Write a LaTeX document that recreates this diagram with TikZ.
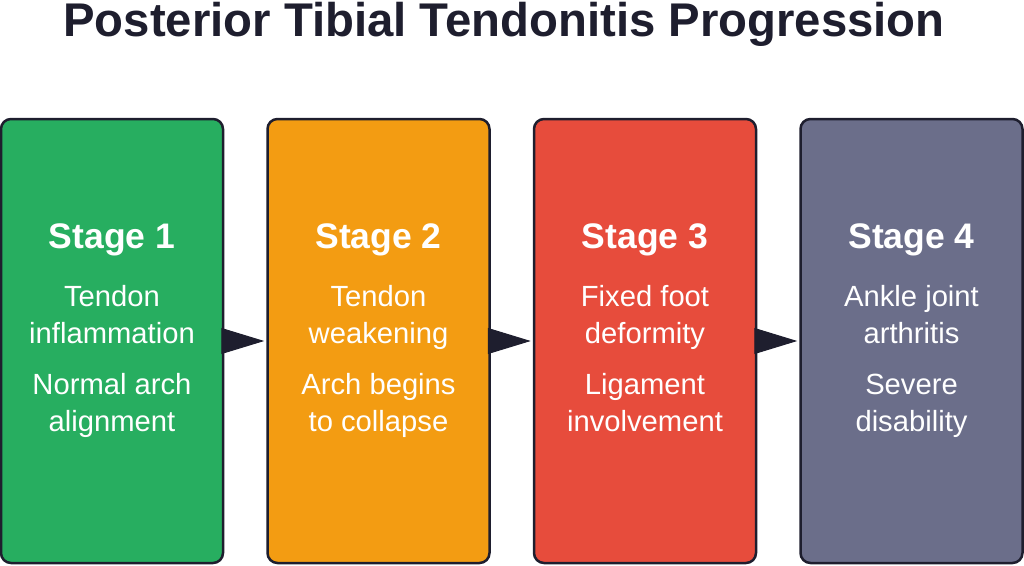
\documentclass[tikz,border=0pt]{standalone}
\usepackage{fontspec}
\setmainfont{Liberation Sans}
\usepackage{xcolor}
\usepackage{tikz}
\usetikzlibrary{positioning, arrows.meta}

\definecolor{ink}{HTML}{1E1E2E}
\definecolor{stagegreen}{HTML}{27AE60}
\definecolor{stageorange}{HTML}{F39C12}
\definecolor{stagered}{HTML}{E74C3C}
\definecolor{stagegrey}{HTML}{6B6E8A}

\begin{document}
\begin{tikzpicture}[
    x=1pt, y=-1pt,
    node distance=42pt,
    title/.style={anchor=base, text=ink, font=\fontsize{47.3}{52}\selectfont\bfseries},
    stagebox/.style={rectangle, rounded corners=10pt, draw=ink, line width=2.5pt, minimum width=222pt, minimum height=444pt, inner sep=0pt},
    stagelabel/.style={anchor=base, text=white, font=\fontsize{35.5}{40}\selectfont\bfseries},
    detail/.style={anchor=base, text=white, align=center, inner sep=0pt, font=\fontsize{29.2}{37}\selectfont},
    arrow/.style={-{Triangle[length=43pt,width=26pt]}, draw=ink, fill=ink, line width=1pt, shorten <=-3pt, shorten >=2pt}
]
    \useasboundingbox (0,0) rectangle (1024,565);

    \node[title] (title) at (504,36) {Posterior Tibial Tendonitis Progression};

    \node[stagebox, fill=stagegreen] (s1) at (112,341) {};
    \node[stagebox, fill=stageorange, right=of s1] (s2) {};
    \node[stagebox, fill=stagered, right=of s2] (s3) {};
    \node[stagebox, fill=stagegrey, right=of s3] (s4) {};

    \draw[arrow] (s1) -- (s2);
    \draw[arrow] (s2) -- (s3);
    \draw[arrow] (s3) -- (s4);

    % Stage texts
    \node[stagelabel] (l1) at ([yshift=-131pt]s1.north) {Stage 1};
    \node[detail] (a1) at ([yshift=-226pt]s1.north) {Tendon\\inflammation};
    \node[detail] (b1) at ([yshift=-314pt]s1.north) {Normal arch\\alignment};

    \node[stagelabel] (l2) at ([yshift=-131pt]s2.north) {Stage 2};
    \node[detail] (a2) at ([yshift=-226pt]s2.north) {Tendon\\weakening};
    \node[detail] (b2) at ([yshift=-314pt]s2.north) {Arch begins\\to collapse};

    \node[stagelabel] (l3) at ([yshift=-131pt]s3.north) {Stage 3};
    \node[detail] (a3) at ([yshift=-226pt]s3.north) {Fixed foot\\deformity};
    \node[detail] (b3) at ([yshift=-314pt]s3.north) {Ligament\\involvement};

    \node[stagelabel] (l4) at ([yshift=-131pt]s4.north) {Stage 4};
    \node[detail] (a4) at ([yshift=-226pt]s4.north) {Ankle joint\\arthritis};
    \node[detail] (b4) at ([yshift=-314pt]s4.north) {Severe\\disability};

\end{tikzpicture}
\end{document}
